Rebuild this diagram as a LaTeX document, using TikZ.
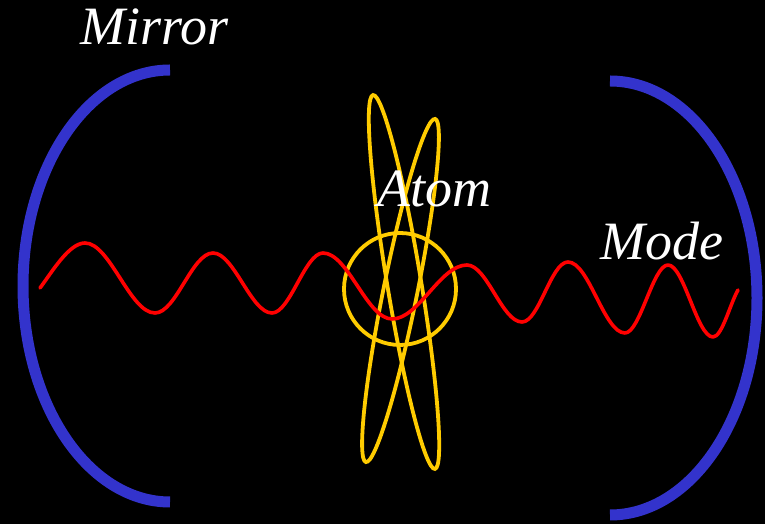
\documentclass[tikz,border=0pt]{standalone}
\usepackage{fontspec}
\setmainfont{Liberation Serif}
\definecolor{mirrorblue}{RGB}{51,51,204}
\definecolor{atomyellow}{RGB}{255,204,0}
\definecolor{wavered}{RGB}{255,0,0}
\begin{document}
\begin{tikzpicture}[x=1pt,y=1pt,
  mirror/.style={draw=mirrorblue,line width=11pt},
  orbit/.style={draw=atomyellow,line width=3.8pt},
  wave/.style={draw=wavered,line width=3.6pt,line cap=round,line join=round},
  label/.style={text=white,anchor=base west,inner sep=0pt,font=\fontsize{54}{60}\selectfont\itshape}]
\fill[black] (0,0) rectangle (765,524);
\useasboundingbox (0,0) rectangle (765,524);
% mirrors
\draw[mirror] (170,454) arc[start angle=90,end angle=270,x radius=147,y radius=216];
\draw[mirror] (610,443) arc[start angle=90,end angle=-90,x radius=147,y radius=217];
% atom
\coordinate (atomc) at (400,235);
\draw[orbit] (atomc) circle[radius=56];
\draw[orbit,rotate around={99.4:(404,242)}] (404,242) ellipse[x radius=189.5,y radius=17];
\draw[orbit,rotate around={78.6:(400.5,233.5)}] (400.5,233.5) ellipse[x radius=175,y radius=17];
% wave
\draw[wave] (40,236)
  .. controls +(12,16) and +(-16,0) .. (85,281)
  .. controls +(25,0) and +(-25,0) .. (155,211)
  .. controls +(21,0) and +(-21,0) .. (213,271)
  .. controls +(21,0) and +(-21,0) .. (272,211)
  .. controls +(18,0) and +(-18,0) .. (323,271)
  .. controls +(25,0) and +(-25,0) .. (392,205)
  .. controls +(27,0) and +(-27,0) .. (467,259)
  .. controls +(20,0) and +(-20,0) .. (522,202)
  .. controls +(17,0) and +(-17,0) .. (568,262)
  .. controls +(21,0) and +(-21,0) .. (625,191)
  .. controls +(15,0) and +(-15,0) .. (668,259)
  .. controls +(16,0) and +(-16,0) .. (713,187)
  .. controls +(9,0) and +(-8,-14) .. (738,234);
% labels
\node[label] (mirrorlabel) at (80,479) {Mirror};
\node[label] (atomlabel) at (377,317) {Atom};
\node[label] (modelabel) at (600,264) {Mode};
\end{tikzpicture}
\end{document}
